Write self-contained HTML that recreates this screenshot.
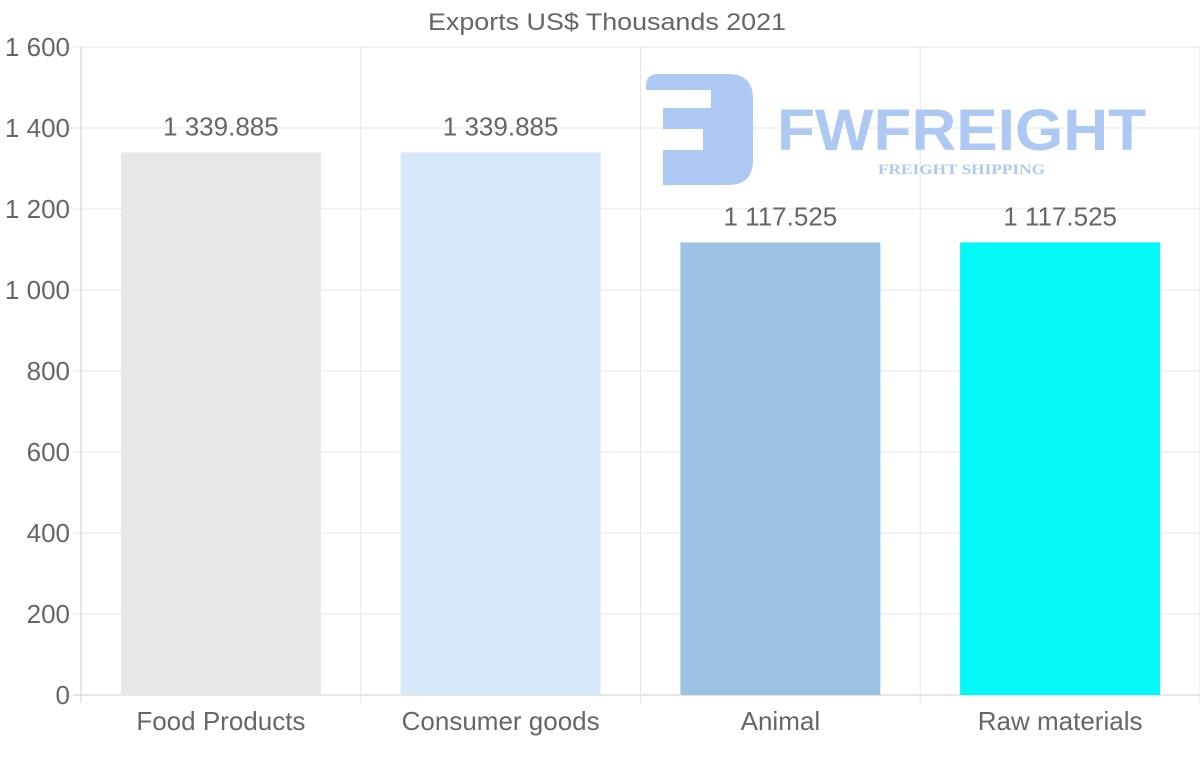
<!DOCTYPE html>
<html><head><meta charset="utf-8"><style>
body{margin:0;background:#fff;}
svg{display:block;font-family:"Liberation Sans",sans-serif;}
</style></head><body>
<svg id="chart" width="1200" height="763">
<text x="607" y="30" text-anchor="middle" font-size="24" fill="#666" textLength="358" lengthAdjust="spacingAndGlyphs">Exports US$ Thousands 2021</text>
<g id="grid"></g>
<g id="bars"></g>
<g id="logo">
<path d="M658 74 H728 Q753 74 753 99 V160 Q753 185 728 185 H663 V150 H703 V129 H663 V108 H711 V90 H646 V86 Q646 74 658 74 Z" fill="#adc8f3"/>
<text x="777" y="150" font-size="58" font-weight="bold" fill="#adc8f3" textLength="369" lengthAdjust="spacingAndGlyphs">FWFREIGHT</text>
<text x="878" y="174" font-size="15" font-weight="bold" font-family="Liberation Serif,serif" fill="#adc8f3" textLength="167" lengthAdjust="spacingAndGlyphs">FREIGHT SHIPPING</text>
</g>
<g id="labels"></g>
</svg>
<script>
const categories=["Food Products","Consumer goods","Animal","Raw materials"];
const values=[1339.885,1339.885,1117.525,1117.525];
const valueLabels=["1 339.885","1 339.885","1 117.525","1 117.525"];
const colors=["#e7e7e7","#d6e8fa","#9bc3e6","#05f8f8"];
const yTicks=[0,200,400,600,800,1000,1200,1400,1600];
const yTickLabels=["0","200","400","600","800","1 000","1 200","1 400","1 600"];
const NS="http://www.w3.org/2000/svg";
const L=81,R=1200,T=47,B=695,yMax=1600;
const y=v=>B-(v/yMax)*(B-T);
const bw=(R-L)/categories.length;
const x=i=>L+i*bw;
function mk(tag,attrs,parent){const e=document.createElementNS(NS,tag);for(const k in attrs)e.setAttribute(k,attrs[k]);parent.appendChild(e);return e;}
const grid=document.getElementById('grid'),bars=document.getElementById('bars'),labels=document.getElementById('labels');
yTicks.forEach((t,i)=>{
 const g=mk('line',{x1:L-8,x2:R,y1:y(t),y2:y(t),stroke:i==0?'#ccc':'#e5e5e5'},grid);
 
 
 const tx=mk('text',{x:70,y:y(t)+9,'text-anchor':'end','font-size':26,fill:'#666'},grid);
 tx.textContent=yTickLabels[i];
 
 
});
for(let i=0;i<=categories.length;i++){
 const v=mk('line',{x1:x(i),x2:x(i),y1:T,y2:B+8,stroke:i==0?'#ccc':'#e5e5e5'},grid);
 
 
}
categories.forEach((c,i)=>{
 const cx=x(i)+bw/2;
 const r=mk('rect',{x:cx-100,y:y(values[i]),width:200,height:B-y(values[i]),fill:colors[i]},bars);
 
 
 const vl=mk('text',{x:cx,y:y(values[i])-17,'text-anchor':'middle','font-size':26,fill:'#666'},labels);
 vl.textContent=valueLabels[i];
 
 
 const xl=mk('text',{x:cx,y:730,'text-anchor':'middle','font-size':26,fill:'#666'},labels);
 xl.textContent=c;
 
 
});
</script>
</body></html>
